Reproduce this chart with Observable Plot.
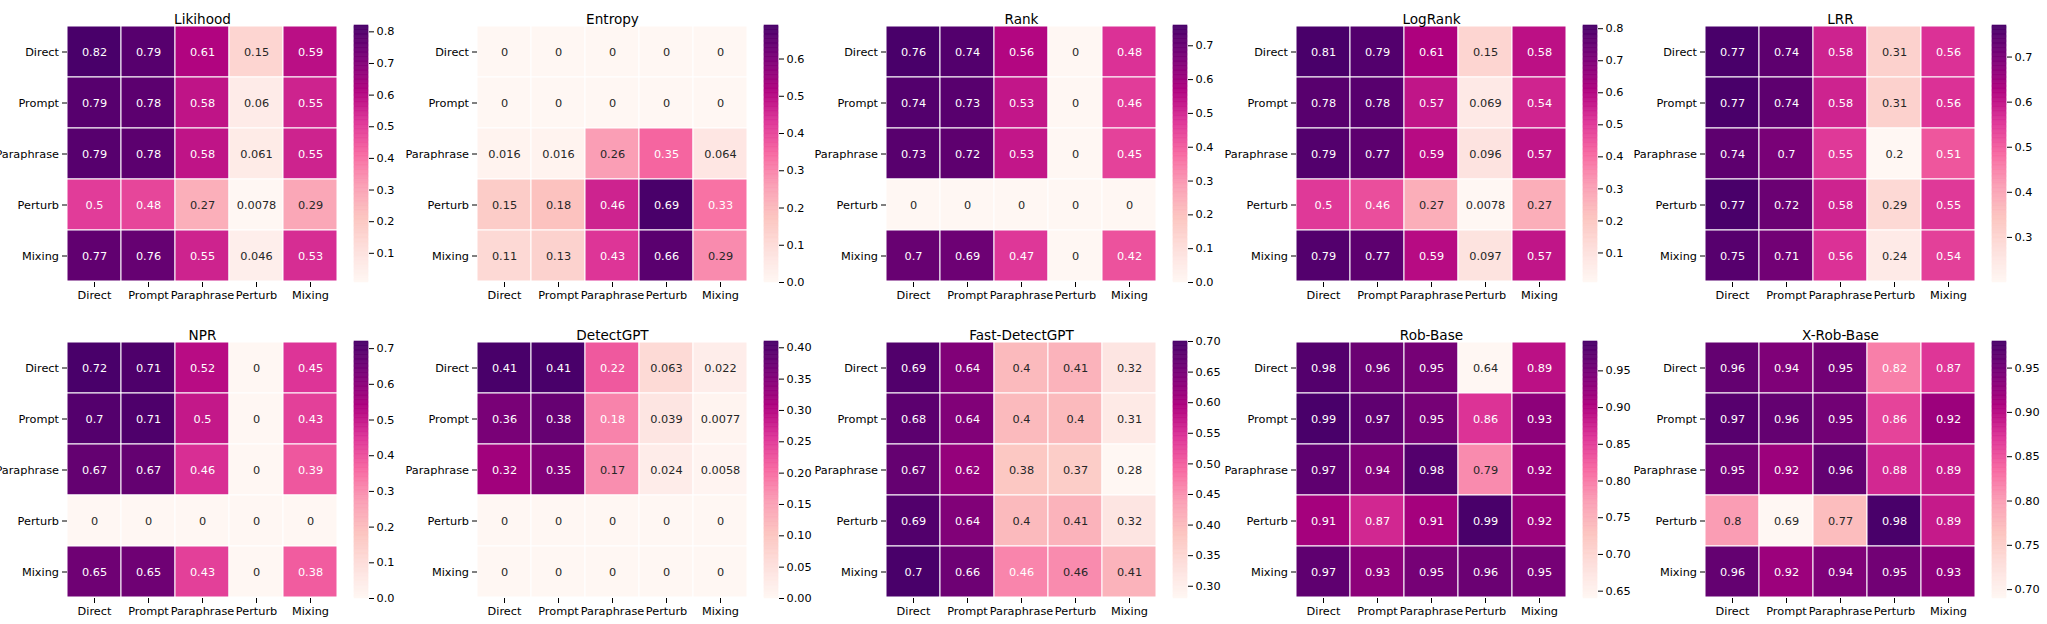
<!DOCTYPE html>
<html><head><meta charset="utf-8">
<script src="https://cdn.jsdelivr.net/npm/d3@7"></script>
<script src="https://cdn.jsdelivr.net/npm/@observablehq/plot@0.6"></script>
<style>
html,body{margin:0;padding:0;background:#fff;}
#wrap{position:relative;width:2047px;height:624px;overflow:hidden;font-family:"DejaVu Sans";}
.panel{position:absolute;}
</style></head><body><div id="wrap"></div>
<script>
// ---------- data ----------
const categories = ["Direct", "Prompt", "Paraphrase", "Perturb", "Mixing"];
const panelTitles = ["Likihood", "Entropy", "Rank", "LogRank", "LRR", "NPR", "DetectGPT", "Fast-DetectGPT", "Rob-Base", "X-Rob-Base"];

const likihood = [[0.82,0.79,0.61,0.15,0.59],[0.79,0.78,0.58,0.06,0.55],[0.79,0.78,0.58,0.061,0.55],[0.5,0.48,0.27,0.0078,0.29],[0.77,0.76,0.55,0.046,0.53]];
const entropy = [[0,0,0,0,0],[0,0,0,0,0],[0.016,0.016,0.26,0.35,0.064],[0.15,0.18,0.46,0.69,0.33],[0.11,0.13,0.43,0.66,0.29]];
const rank = [[0.76,0.74,0.56,0,0.48],[0.74,0.73,0.53,0,0.46],[0.73,0.72,0.53,0,0.45],[0,0,0,0,0],[0.7,0.69,0.47,0,0.42]];
const logRank = [[0.81,0.79,0.61,0.15,0.58],[0.78,0.78,0.57,0.069,0.54],[0.79,0.77,0.59,0.096,0.57],[0.5,0.46,0.27,0.0078,0.27],[0.79,0.77,0.59,0.097,0.57]];
const lrr = [[0.77,0.74,0.58,0.31,0.56],[0.77,0.74,0.58,0.31,0.56],[0.74,0.7,0.55,0.2,0.51],[0.77,0.72,0.58,0.29,0.55],[0.75,0.71,0.56,0.24,0.54]];
const npr = [[0.72,0.71,0.52,0,0.45],[0.7,0.71,0.5,0,0.43],[0.67,0.67,0.46,0,0.39],[0,0,0,0,0],[0.65,0.65,0.43,0,0.38]];
const detectGPT = [[0.41,0.41,0.22,0.063,0.022],[0.36,0.38,0.18,0.039,0.0077],[0.32,0.35,0.17,0.024,0.0058],[0,0,0,0,0],[0,0,0,0,0]];
const fastDetectGPT = [[0.69,0.64,0.4,0.41,0.32],[0.68,0.64,0.4,0.4,0.31],[0.67,0.62,0.38,0.37,0.28],[0.69,0.64,0.4,0.41,0.32],[0.7,0.66,0.462,0.457,0.41]];
const robBase = [[0.98,0.96,0.95,0.64,0.89],[0.99,0.97,0.95,0.86,0.93],[0.97,0.94,0.98,0.787,0.92],[0.91,0.87,0.91,0.99,0.92],[0.97,0.93,0.95,0.96,0.95]];
const xRobBase = [[0.96,0.94,0.95,0.82,0.87],[0.97,0.96,0.95,0.86,0.92],[0.95,0.92,0.96,0.88,0.89],[0.8,0.69,0.77,0.98,0.89],[0.96,0.92,0.94,0.95,0.93]];

const ticksLikihood = [0.1,0.2,0.3,0.4,0.5,0.6,0.7,0.8];
const ticksEntropy = [0,0.1,0.2,0.3,0.4,0.5,0.6];
const ticksRank = [0,0.1,0.2,0.3,0.4,0.5,0.6,0.7];
const ticksLogRank = [0.1,0.2,0.3,0.4,0.5,0.6,0.7,0.8];
const ticksLRR = [0.3,0.4,0.5,0.6,0.7];
const ticksNPR = [0,0.1,0.2,0.3,0.4,0.5,0.6,0.7];
const ticksDetectGPT = [0,0.05,0.1,0.15,0.2,0.25,0.3,0.35,0.4];
const ticksFast = [0.3,0.35,0.4,0.45,0.5,0.55,0.6,0.65,0.7];
const ticksRob = [0.65,0.7,0.75,0.8,0.85,0.9,0.95];
const ticksXRob = [0.7,0.75,0.8,0.85,0.9,0.95];

const RdPu = ["#fff7f3","#fde0dd","#fcc5c0","#fa9fb5","#f768a1","#dd3497","#ae017e","#7a0177","#49006a"];

const matrices = [likihood, entropy, rank, logRank, lrr, npr, detectGPT, fastDetectGPT, robBase, xRobBase];
const tickSets = [ticksLikihood, ticksEntropy, ticksRank, ticksLogRank, ticksLRR, ticksNPR, ticksDetectGPT, ticksFast, ticksRob, ticksXRob];

// ---------- drawing ----------
const interp = d3.piecewise(d3.interpolateRgb, RdPu);
function lum(c) {
  const r = d3.rgb(c);
  const f = v => { v /= 255; return v <= 0.03928 ? v / 12.92 : Math.pow((v + 0.055) / 1.055, 2.4); };
  return 0.2126 * f(r.r) + 0.7152 * f(r.g) + 0.0722 * f(r.b);
}
const HM_W = 270, HM_H = 257, ML = 80, MR = 10, MT = 25, MB = 32, CB_W = 14, CB_MR = 50;
const FS = 11.3;
const fmt = d3.format(".2~g");
const wrap = document.getElementById("wrap");
const baseStyle = {fontFamily: "DejaVu Sans", fontSize: FS + "px", overflow: "visible", background: "transparent", color: "#000"};

function place(node, left, top, w) {
  const div = document.createElement("div");
  div.className = "panel";
  div.style.left = left + "px";
  div.style.top = top + "px";
  div.style.width = w + "px";
  div.appendChild(node);
  wrap.appendChild(div);
}

matrices.forEach((m, i) => {
  const col = i % 5, row = Math.floor(i / 5);
  const hmLeft = 67 + col * 409.5;
  const hmTop = row === 0 ? 25 : 341;
  const cells = m.flatMap((r, ri) => r.map((v, ci) => ({row: categories[ri], col: categories[ci], value: v})));
  const [vmin, vmax] = d3.extent(cells, d => d.value);
  const isDark = d => lum(interp((d.value - vmin) / (vmax - vmin))) <= 0.408;
  const colorScale = {type: "linear", domain: [vmin, vmax], interpolate: interp};

  const hm = Plot.plot({
    width: ML + HM_W + MR, height: MT + HM_H + MB,
    marginLeft: ML, marginRight: MR, marginTop: MT, marginBottom: MB,
    style: baseStyle,
    x: {domain: categories, padding: 0},
    y: {domain: categories, padding: 0},
    color: colorScale,
    marks: [
      Plot.cell(cells, {x: "col", y: "row", fill: "value", stroke: "white", strokeWidth: 1}),
      Plot.text(cells, {x: "col", y: "row", text: d => fmt(d.value), fill: "white", filter: isDark, fontSize: FS}),
      Plot.text(cells, {x: "col", y: "row", text: d => fmt(d.value), fill: "#262626", filter: d => !isDark(d), fontSize: FS}),
      Plot.axisX({anchor: "bottom", tickSize: 5, tickPadding: 3, fontSize: FS, label: null}),
      Plot.axisY({anchor: "left", tickSize: 5, tickPadding: 3.5, fontSize: FS, label: null}),
      Plot.text([panelTitles[i]], {text: d => d, frameAnchor: "top", dy: -11, fontSize: 13.6, fill: "#000"})
    ]
  });
  place(hm, hmLeft - ML, hmTop - MT, ML + HM_W + MR);

  const N = 200;
  const stripes = d3.range(N).map(k => [vmin + (vmax - vmin) * k / N, vmin + (vmax - vmin) * (k + 1) / N]);
  const ticks = tickSets[i];
  const dec = d3.precisionFixed(ticks[1] - ticks[0]);
  const cb = Plot.plot({
    width: CB_W + CB_MR, height: MT + HM_H + MB,
    marginLeft: 0, marginRight: CB_MR, marginTop: MT, marginBottom: MB,
    style: baseStyle,
    x: {domain: [0, 1], axis: null},
    y: {domain: [vmin, vmax]},
    color: colorScale,
    marks: [
      Plot.rect(stripes, {x1: 0, x2: 1, y1: d => d[0], y2: d => d[1], fill: d => (d[0] + d[1]) / 2, stroke: d => (d[0] + d[1]) / 2, strokeWidth: 0.6}),
      Plot.axisY({anchor: "right", ticks: ticks, tickFormat: d3.format("." + dec + "f"), tickSize: 5, tickPadding: 3, fontSize: FS, label: null})
    ]
  });
  place(cb, hmLeft + 287, hmTop - MT, CB_W + CB_MR);
});
</script></body></html>
